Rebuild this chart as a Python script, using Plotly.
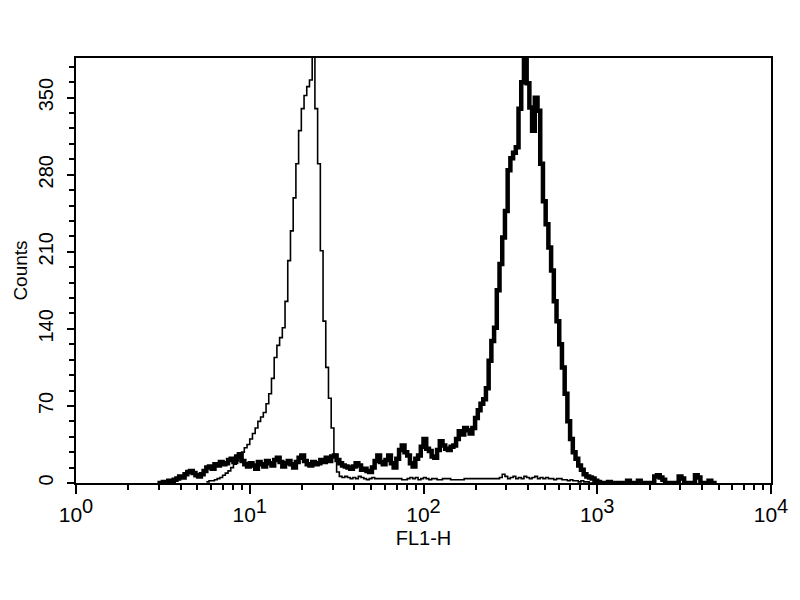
import plotly.graph_objects as go

# Histogram data: 64 channels per decade, counts per channel
CH_PER_DECADE = 64

control_start = 48
control_counts = [
    1, 2, 2, 3, 4, 5, 7, 9, 11, 14, 17, 20, 24,
    28, 32, 35, 40, 45, 50, 56, 60, 64, 72, 81, 95, 114, 125, 132, 141, 165, 202,
    229, 259, 290, 320, 340, 352, 360, 366, 400, 340, 290, 211, 147, 105, 77, 50,
    26, 10, 6,
    5, 6, 5, 4, 5, 4, 6, 5, 4, 3, 4, 5, 4,
    4, 4, 4, 4, 4, 4, 4, 4, 4, 3, 3, 4, 5, 4, 5, 3, 4, 5, 4, 3,
    4, 4, 3, 3, 4, 4, 4, 3, 3, 3, 3, 3, 4, 4, 4, 4, 4, 4, 4, 4,
    4, 4, 4, 4, 4, 5, 8, 6, 4, 5, 6, 4, 5, 4, 6, 5, 4, 5, 6, 4,
    5, 4, 5, 4, 4, 3, 4, 4, 3, 3, 2, 3, 2, 2, 1, 2, 1, 1, 0, 0,
]

stained_start = 30
stained_counts = [
    0, 0, 1, 1, 2, 2,
    3, 4, 6, 5, 8, 10, 11, 9, 7, 6, 8, 11, 14, 15, 13, 17, 16, 19, 17, 18, 21, 22,
    19, 24, 26,
    20, 17, 15, 18, 16, 13, 19, 17, 15, 20, 18, 16, 21, 23, 19, 15, 18, 20, 17, 14,
    19, 23, 25, 20, 17, 16, 19, 17, 18, 21, 19, 23, 20, 24, 25, 21, 18,
    16, 15, 14, 13, 15, 18, 16, 12, 13, 11, 10, 14, 20, 25, 19, 17, 21, 25, 18, 14,
    22, 30, 34, 28, 25, 18, 15, 22, 25, 33, 40, 31, 29, 24, 23, 30, 38, 34, 31, 30,
    33, 34, 40, 47, 44, 50, 48, 45, 50, 59, 66, 72, 76,
    86, 111, 129, 141, 175, 199, 223, 247, 284, 295, 300, 305, 340, 364, 400,
    363, 341, 320, 350, 338, 290, 256, 235, 214, 193, 165, 147, 126, 105, 81,
    56, 40, 28, 22, 16, 12, 8, 6, 5, 4, 2, 1, 0, 0, 0,
    1, 0, 0, 0, 0, 0, 0, 2, 0, 0, 0, 2, 0, 0, 0, 0, 0, 6, 7, 5,
    3, 0, 0, 0, 0, 0, 6, 4, 0, 0, 0, 0, 7, 5, 0, 0, 0, 2, 0, 0,
]

y_tickvals = [0, 70, 140, 210, 280, 350]
x_tickvals = [1, 10, 100, 1000, 10000]
x_exponents = ["0", "1", "2", "3", "4"]
x_ticktext = ['10<sup><span style="font-size:20px">%s</span></sup>' % e
              for e in x_exponents]


def steps(start, counts):
    xs = [10 ** ((start + i) / CH_PER_DECADE) for i in range(len(counts) + 1)]
    ys = list(counts) + [counts[-1]]
    return xs, ys


FONT = "Liberation Sans, Arial, sans-serif"

fig = go.Figure()
cx, cy = steps(control_start, control_counts)
sx, sy = steps(stained_start, stained_counts)
fig.add_trace(go.Scatter(x=cx, y=cy, mode="lines", line_shape="hv",
                         line=dict(color="black", width=1.6), showlegend=False))
fig.add_trace(go.Scatter(x=sx, y=sy, mode="lines", line_shape="hv",
                         line=dict(color="black", width=4.5), showlegend=False))

fig.update_layout(
    width=792, height=592,
    margin=dict(l=65, r=27, t=50, b=117),
    paper_bgcolor="white", plot_bgcolor="white",
    font=dict(family=FONT, color="black", size=18),
    showlegend=False,
)
fig.update_xaxes(
    type="log", range=[0, 4],
    tickvals=x_tickvals, ticktext=x_ticktext,
    ticks="outside", ticklen=9, tickwidth=2, tickcolor="black",
    minor=dict(ticks="outside", ticklen=5, tickwidth=2, tickcolor="black", dtick="D1"),
    showline=True, linecolor="black", linewidth=2, mirror=True,
    showgrid=False, zeroline=False,
    ticklabelstandoff=3,
    tickfont=dict(size=21, family=FONT),
    title=dict(text="FL1-H", font=dict(size=20, family=FONT), standoff=6),
)
fig.update_yaxes(
    range=[0, 386],
    tickvals=y_tickvals,
    ticks="outside", ticklen=7, tickwidth=2, tickcolor="black",
    minor=dict(ticks="outside", ticklen=5, tickwidth=2, tickcolor="black", dtick=14),
    showline=True, linecolor="black", linewidth=2, mirror=True,
    showgrid=False, zeroline=False,
    tickangle=-90, ticklabelstandoff=6,
    tickfont=dict(size=20, family=FONT),
    title=dict(text="Counts", font=dict(size=19, family=FONT), standoff=2),
)

fig.write_html("out.html")
